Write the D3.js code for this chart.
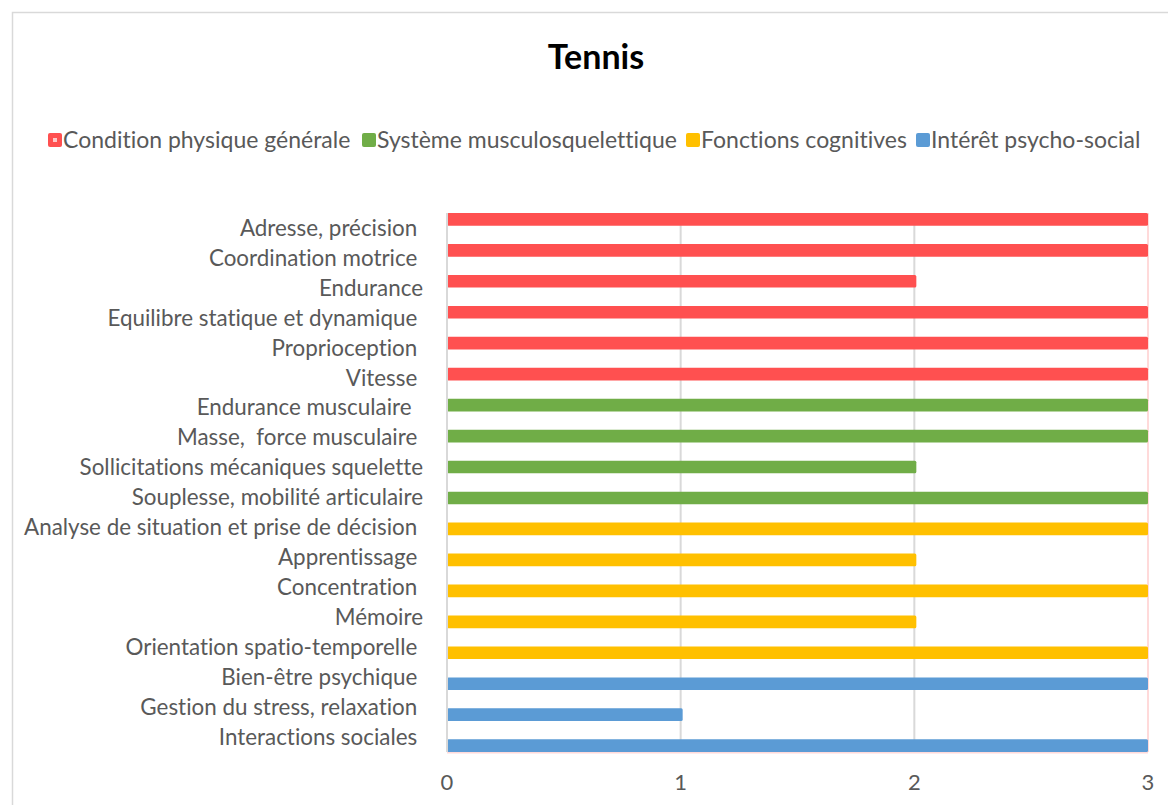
<!DOCTYPE html>
<html><head><meta charset="utf-8">
<script src="https://cdn.jsdelivr.net/npm/d3@7"></script>
<style>
html,body{margin:0;padding:0;background:#fff;}
svg{display:block;}
text{font-family:Lato,"Open Sans",sans-serif;fill:#595959;font-variant-ligatures:none;font-feature-settings:"liga" 0;}
</style></head>
<body>
<script>
const categories = [
  "Adresse, précision ", "Coordination motrice ", "Endurance", "Equilibre statique et dynamique ",
  "Proprioception ", "Vitesse ", "Endurance musculaire  ", "Masse,  force musculaire ",
  "Sollicitations mécaniques squelette", "Souplesse, mobilité articulaire",
  "Analyse de situation et prise de décision ", "Apprentissage ", "Concentration ", "Mémoire",
  "Orientation spatio-temporelle ", "Bien-être psychique ", "Gestion du stress, relaxation ",
  "Interactions sociales "
];
const values = [3,3,2,3,3,3, 3,3,2,3, 3,2,3,2,3, 3,1,3];
const groups = ["Condition physique générale","Condition physique générale","Condition physique générale","Condition physique générale","Condition physique générale","Condition physique générale",
  "Système musculosquelettique","Système musculosquelettique","Système musculosquelettique","Système musculosquelettique",
  "Fonctions cognitives","Fonctions cognitives","Fonctions cognitives","Fonctions cognitives","Fonctions cognitives",
  "Intérêt psycho-social","Intérêt psycho-social","Intérêt psycho-social"];
const seriesNames = ["Condition physique générale","Système musculosquelettique","Fonctions cognitives","Intérêt psycho-social"];
const seriesColors = ["#FF5050","#70AD47","#FFC000","#5B9BD5"];
const xTicks = [0,1,2,3];
const title = "Tennis";

const W = 1168, H = 805;
const svg = d3.select("body").append("svg").attr("width", W).attr("height", H);

// chart border
svg.append("path").attr("d", `M12.5,${H} V12.5 H${W}`).attr("fill","none").attr("stroke","#d9d9d9").attr("stroke-width",1.5);

const plot = {left: 447, right: 1148, top: 213, bottom: 752};
const x = d3.scaleLinear().domain([0,3]).range([plot.left, plot.right]);
const y = d3.scaleBand().domain(categories).range([plot.top, plot.bottom]).paddingInner(0.59).paddingOuter(0);
const color = d3.scaleOrdinal().domain(seriesNames).range(seriesColors);

// gridlines
svg.append("g").selectAll("line").data(xTicks.slice(1)).join("line")
  .attr("x1", d => x(d)).attr("x2", d => x(d))
  .attr("y1", plot.top).attr("y2", plot.bottom)
  .attr("stroke", d => d === 3 ? "#ffdada" : "#d9d9d9").attr("stroke-width", 2);
// bottom pink line
svg.append("line").attr("x1", plot.left).attr("x2", plot.right).attr("y1", plot.bottom+0.5).attr("y2", plot.bottom+0.5)
  .attr("stroke","#ffdada").attr("stroke-width",2);

// bars
svg.append("g").selectAll("rect").data(categories).join("rect")
  .attr("x", x(0)).attr("y", d => y(d))
  .attr("width", (d,i) => x(values[i]) - x(0) + (values[i] < 3 ? 2 : 0)).attr("height", y.bandwidth())
  .attr("rx", 1.5)
  .attr("fill", (d,i) => color(groups[i]));

// y axis line
svg.append("line").attr("x1", plot.left).attr("x2", plot.left).attr("y1", plot.top).attr("y2", plot.bottom)
  .attr("stroke","#d9d9d9").attr("stroke-width",2);

// y labels
const yLabScale = d3.scalePoint().domain(categories).range([228, 737]);
svg.append("g").selectAll("text").data(categories).join("text")
  .attr("x", 423).attr("y", d => yLabScale(d)).attr("dy","0.35em")
  .attr("text-anchor","end").attr("font-size", 22.4).style("white-space","pre")
  .text(d => d);

// x axis labels
svg.append("g").selectAll("text").data(xTicks).join("text")
  .attr("x", d => x(d)).attr("y", 782).attr("dy","0.35em")
  .attr("text-anchor","middle").attr("font-size", 22).text(d => d);

// title
svg.append("text").attr("x", 596).attr("y", 57).attr("dy","0.35em").attr("text-anchor","middle")
  .attr("font-size", 34).attr("font-weight","bold").style("fill","#000").text(title);

// legend
const legendX = [48, 362, 686, 916];
const lg = svg.append("g").selectAll("g").data(seriesNames).join("g")
  .attr("transform", (d,i) => `translate(${legendX[i]},140)`);
lg.append("rect").attr("x",0).attr("y",-7).attr("width",14).attr("height",14).attr("rx",2)
  .attr("fill", d => color(d));
lg.filter((d,i) => i === 0).append("rect").attr("x",5).attr("y",-2).attr("width",4).attr("height",4).attr("fill","#ffc8c8");
lg.append("text").attr("x",15).attr("y",0).attr("dy","0.35em").attr("font-size",23).text(d => d);
</script>
</body></html>
